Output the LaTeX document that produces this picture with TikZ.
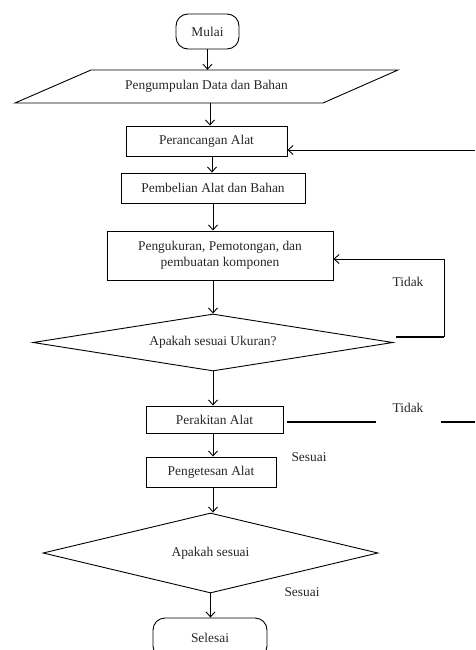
\documentclass[tikz,border=0pt]{standalone}
\usepackage{fontspec}
\setmainfont{Liberation Serif}
\usetikzlibrary{arrows.meta,shapes.geometric,calc}
\begin{document}
\begin{tikzpicture}[x=1pt,y=-1pt,
  txt/.style={font=\fontsize{13.4}{16}\selectfont, text=black!85, inner sep=0pt},
  box/.style={txt, draw, line width=0.9pt, rectangle, align=center},
  term/.style={box, rounded corners=12pt},
  decis/.style={txt, draw, line width=0.9pt, diamond, align=center},
  arr/.style={line width=0.9pt, -{Straight Barb[length=5pt,width=9pt]}},
  plain/.style={line width=0.9pt},
  stub/.style={line width=2pt}
]
\useasboundingbox (0,0) rectangle (475,650);

% nodes
\node[term, minimum width=63, minimum height=35] (mulai) at (207.5,31.5) {Mulai};
\node[txt, minimum width=300, minimum height=33] (data) at (206.5,86.5) {Pengumpulan Data dan Bahan};
\draw[plain] (91,70) -- (398,70) -- (323,103) -- (15,103) -- cycle;
\node[box, minimum width=161, minimum height=30] (perancangan) at (206.5,141) {Perancangan Alat};
\node[box, minimum width=184, minimum height=30] (pembelian) at (213,188) {Pembelian Alat dan Bahan};
\node[box, minimum width=226, minimum height=49] (pengukuran) at (220,255.5) {Pengukuran, Pemotongan, dan\\pembuatan komponen};
\node[decis, aspect=6.3, minimum width=360, minimum height=57] (cek1) at (213,342.5) {Apakah sesuai Ukuran?};
\node[box, minimum width=137, minimum height=27] (perakitan) at (214.5,419.5) {Perakitan Alat};
\node[box, minimum width=130, minimum height=30] (pengetesan) at (211,472) {Pengetesan Alat};
\node[decis, aspect=4.2, minimum width=335, minimum height=80] (cek2) at (210.5,553) {Apakah sesuai};
\node[term, minimum width=114, minimum height=40] (selesai) at (210,638) {Selesai};

% labels
\node[txt] (tidak1) at (408,282) {Tidak};
\node[txt] (tidak2) at (408,408) {Tidak};
\node[txt] (sesuai1) at (309,457) {Sesuai};
\node[txt] (sesuai2) at (302,592) {Sesuai};

% main flow
\draw[arr] (mulai) -- (mulai |- data.north);
\draw[arr] ([xshift=3.5pt]data.south) -- ([xshift=3.5pt]data.south |- perancangan.north);
\draw[arr] ([xshift=5.5pt]perancangan.south) -- ([xshift=5.5pt]perancangan.south |- pembelian.north);
\draw[arr] (pembelian) -- (pembelian |- pengukuran.north);
\draw[arr] ([xshift=-7pt]pengukuran.south) -- ([xshift=-7pt]pengukuran.south |- cek1.north);
\draw[arr] (cek1) -- (cek1 |- perakitan.north);
\draw[arr] ([xshift=-1.5pt]perakitan.south) -- ([xshift=-1.5pt]perakitan.south |- pengetesan.north);
\draw[arr] ([xshift=2pt]pengetesan.south) -- ([xshift=2pt]pengetesan.south |- cek2.north);
\draw[arr] (cek2) -- (cek2 |- selesai.north);

% feedback to Perancangan
\coordinate (r1) at (475,150);
\draw[arr] (r1) -- (perancangan.east |- r1);

% feedback loop Tidak (ukuran)
\coordinate (c1) at (444,259);
\coordinate (c2) at (444,337);
\coordinate (c3) at (396,337);
\draw[stub] (c3) -- (c2);
\draw[arr] (c2) -- (c1) -- (pengukuran.east |- c1);

% Tidak line from Perakitan
\coordinate (t1) at (376,422);
\coordinate (t2) at (441,422);
\coordinate (t3) at (475,422);
\draw[stub] ([xshift=4pt]perakitan.east |- t1) -- (t1);
\draw[stub] (t2) -- (t3);
\end{tikzpicture}
\end{document}
